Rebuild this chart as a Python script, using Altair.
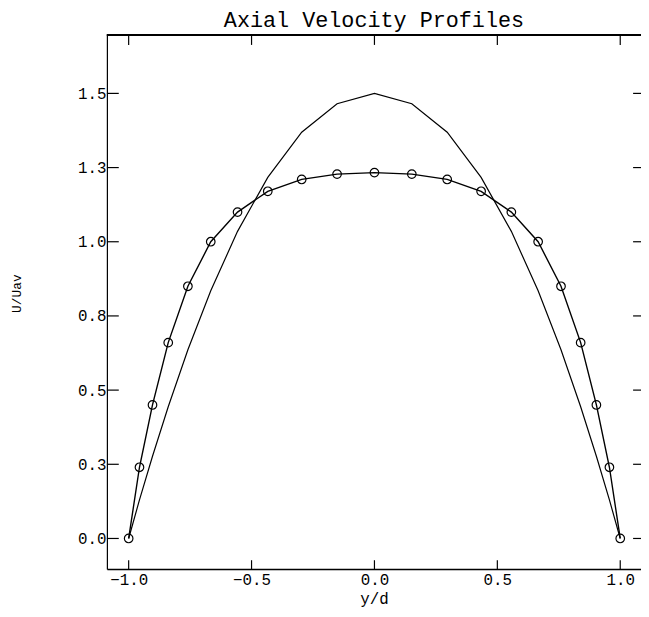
import altair as alt
import pandas as pd

# y/d positions of the computed points (both profiles share the grid)
yd = [-1.0, -0.956, -0.903, -0.839, -0.759, -0.666, -0.557, -0.434, -0.296, -0.152, 0.0,
      0.152, 0.296, 0.434, 0.557, 0.666, 0.759, 0.839, 0.903, 0.956, 1.0]
# profile drawn with circles
u_circ = [0.0, 0.24, 0.45, 0.66, 0.85, 1.0, 1.10, 1.17, 1.21, 1.228, 1.233,
          1.228, 1.21, 1.17, 1.10, 1.0, 0.85, 0.66, 0.45, 0.24, 0.0]
# peaked profile (plain line)
u_peak = [0.0, 0.13, 0.277, 0.444, 0.636, 0.835, 1.035, 1.217, 1.369, 1.465, 1.5,
          1.465, 1.369, 1.217, 1.035, 0.835, 0.636, 0.444, 0.277, 0.13, 0.0]

x_ticks = [-1.0, -0.5, 0.0, 0.5, 1.0]
y_ticks = [0.0, 0.25, 0.5, 0.75, 1.0, 1.25, 1.5]

df = pd.DataFrame({"yd": yd, "circ": u_circ, "peak": u_peak})
dfx = pd.DataFrame({"t": x_ticks})
dfy = pd.DataFrame({"t": y_ticks})

FONT = "Liberation Mono"
W, H = 540, 540
xs = alt.Scale(domain=[-1.0885, 1.0845], nice=False, zero=False)
ys = alt.Scale(domain=[-0.1033, 1.6967], nice=False, zero=False)

x_axis = alt.Axis(values=x_ticks, format=".1f", ticks=False, grid=False,
                  domainColor="black", domainWidth=1.5, labelFont=FONT, labelFontSize=16,
                  labelColor="black", labelPadding=3, title="y/d", titleFont=FONT,
                  titleFontSize=16, titleFontWeight="normal", titleColor="black",
                  titleBaseline="middle", titleY=30)
y_axis = alt.Axis(values=y_ticks, format=".1f", ticks=False, grid=False,
                  domainColor="black", domainWidth=1.2, labelFont=FONT, labelFontSize=16,
                  labelColor="black", labelPadding=1, title="U/Uav", titleFont=FONT,
                  titleFontSize=13, titleFontWeight="normal", titleColor="black",
                  titleX=-91, titleY=261, titleAlign="center", titleBaseline="middle")

base = alt.Chart(df)

peak_line = base.mark_line(color="black", strokeWidth=1.2).encode(
    x=alt.X("yd:Q", scale=xs, axis=x_axis),
    y=alt.Y("peak:Q", scale=ys, axis=y_axis),
)
circ_line = base.mark_line(color="black", strokeWidth=1.4).encode(
    x=alt.X("yd:Q", scale=xs),
    y=alt.Y("circ:Q", scale=ys),
)
circ_pts = base.mark_point(shape="circle", size=75, filled=False, color="black",
                           strokeWidth=1.2, opacity=1).encode(
    x=alt.X("yd:Q", scale=xs),
    y=alt.Y("circ:Q", scale=ys),
)

# top frame line
top_frame = alt.Chart(dfx).mark_rule(color="black", strokeWidth=1.5).encode(
    x=alt.value(0), x2=alt.value(W), y=alt.value(0))

# inward ticks
left_ticks = alt.Chart(dfy).mark_rule(color="black", strokeWidth=1.2).encode(
    y=alt.Y("t:Q", scale=ys), x=alt.value(0), x2=alt.value(12))
right_ticks = alt.Chart(dfy).mark_rule(color="black", strokeWidth=1.2).encode(
    y=alt.Y("t:Q", scale=ys), x=alt.value(532), x2=alt.value(540))
bottom_ticks = alt.Chart(dfx).mark_rule(color="black", strokeWidth=1.2).encode(
    x=alt.X("t:Q", scale=xs), y=alt.value(531), y2=alt.value(540))
top_ticks = alt.Chart(dfx).mark_rule(color="black", strokeWidth=1.2).encode(
    x=alt.X("t:Q", scale=xs), y=alt.value(0), y2=alt.value(10))

chart = alt.layer(
    peak_line, circ_line, circ_pts, top_frame,
    left_ticks, right_ticks, bottom_ticks, top_ticks,
).properties(
    width=W, height=H,
    title=alt.TitleParams("Axial Velocity Profiles", font=FONT, fontSize=22,
                          fontWeight="normal", color="black", anchor="middle",
                          offset=2),
    autosize=alt.AutoSizeParams(type="none"),
    padding={"left": 100, "top": 24, "right": 0, "bottom": 37},
).configure_view(stroke=None).configure(background="white")

chart.save("out.html", embed_options={"renderer": "svg", "actions": False})
